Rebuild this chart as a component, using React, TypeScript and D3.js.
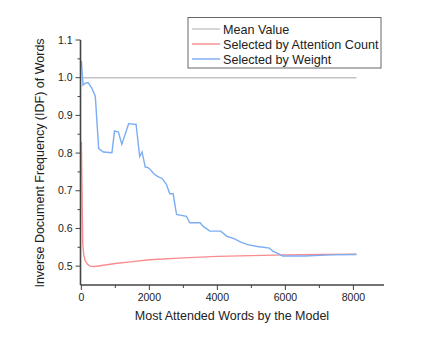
import * as d3 from 'd3'

// IDF of words picked by the model
const weightSeries: [number, number][] = [
  [0, 1.045], [50, 0.98], [110, 0.985], [200, 0.987], [310, 0.972], [410, 0.951],
  [510, 0.812], [650, 0.803], [900, 0.801], [975, 0.859], [1090, 0.856], [1190, 0.823],
  [1390, 0.878], [1610, 0.876], [1715, 0.791], [1785, 0.803], [1880, 0.763], [1950, 0.762],
  [2010, 0.758], [2130, 0.745], [2230, 0.739], [2380, 0.732], [2500, 0.717], [2600, 0.692],
  [2700, 0.692], [2800, 0.637], [3090, 0.632], [3190, 0.615], [3490, 0.615], [3600, 0.604],
  [3780, 0.593], [4100, 0.593], [4280, 0.579], [4490, 0.573], [4690, 0.564], [4890, 0.557],
  [5180, 0.552], [5530, 0.548], [5630, 0.54], [5790, 0.533], [5920, 0.527], [6560, 0.527],
  [7350, 0.53], [8090, 0.531],
]

const countSeries: [number, number][] = [
  [0, 0.83], [20, 0.7], [40, 0.56], [70, 0.53], [110, 0.515], [180, 0.505], [260, 0.5],
  [400, 0.499], [700, 0.503], [1000, 0.507], [1500, 0.512], [2000, 0.517], [3000, 0.522],
  [4000, 0.526], [5000, 0.528], [6000, 0.53], [7000, 0.531], [8090, 0.532],
]

const meanSeries: [number, number][] = [[0, 1.0], [8090, 1.0]]

const xMajor = [0, 2000, 4000, 6000, 8000]
const xMinor = [1000, 3000, 5000, 7000]
const yMajor = [0.5, 0.6, 0.7, 0.8, 0.9, 1.0, 1.1]
const yMinor = [0.55, 0.65, 0.75, 0.85, 0.95, 1.05]

const legendItems = [
  { label: 'Mean Value', color: '#c4c4c4' },
  { label: 'Selected by Attention Count', color: '#f98c8e' },
  { label: 'Selected by Weight', color: '#7badf2' },
]

const W = 447
const H = 342
const font = '"Liberation Sans", Arial, sans-serif'

export default function App() {
  const x = d3.scaleLinear().domain([-25, 8900]).range([80.5, 384])
  const y = d3.scaleLinear().domain([0.45, 1.1]).range([285, 40])

  const line = d3.line<[number, number]>()
    .x(d => x(d[0]))
    .y(d => y(d[1]))

  const series = [
    { data: meanSeries, color: legendItems[0].color },
    { data: countSeries, color: legendItems[1].color },
    { data: weightSeries, color: legendItems[2].color },
  ]

  const x0 = x.range()[0]
  const y0 = y.range()[0]

  return (
    <svg width={W} height={H} style={{ position: 'absolute', left: 0, top: 0, background: '#fff' }}>
      {/* lines */}
      {series.map((s, i) => (
        <path key={i} d={line(s.data) ?? ''} fill="none" stroke={s.color} strokeWidth={1.4} />
      ))}

      {/* y axis */}
      <line x1={x0} x2={x0} y1={y0} y2={y(1.1)} stroke="#444" strokeWidth={1.6} />
      {yMajor.map(v => (
        <g key={v}>
          <line x1={x0 - 5} x2={x0} y1={y(v)} y2={y(v)} stroke="#444" strokeWidth={1} />
          <text x={x0 - 8} y={y(v)} dy="0.35em" textAnchor="end" fontSize={10.5} fontFamily={font} fill="#222">
            {v.toFixed(1)}
          </text>
        </g>
      ))}
      {yMinor.map(v => (
        <line key={v} x1={x0 - 3} x2={x0} y1={y(v)} y2={y(v)} stroke="#444" strokeWidth={1} />
      ))}

      {/* x axis */}
      <line x1={x0} x2={x.range()[1]} y1={y0} y2={y0} stroke="#444" strokeWidth={1.6} />
      {xMajor.map(v => (
        <g key={v}>
          <line x1={x(v)} x2={x(v)} y1={y0} y2={y0 + 5} stroke="#444" strokeWidth={1} />
          <text x={x(v)} y={y0 + 16} textAnchor="middle" fontSize={10.5} fontFamily={font} fill="#222">
            {v}
          </text>
        </g>
      ))}
      {xMinor.map(v => (
        <line key={v} x1={x(v)} x2={x(v)} y1={y0} y2={y0 + 3} stroke="#444" strokeWidth={1} />
      ))}

      {/* axis titles */}
      <text x={232} y={320} textAnchor="middle" fontSize={12.5} fontFamily={font} fill="#222">
        Most Attended Words by the Model
      </text>
      <text
        transform="translate(44,163) rotate(-90)"
        textAnchor="middle"
        fontSize={12.5}
        fontFamily={font}
        fill="#222"
      >
        Inverse Document Frequency (IDF) of Words
      </text>

      {/* legend */}
      <rect x={188} y={17.5} width={193} height={50.5} fill="#fff" stroke="#666" strokeWidth={1} />
      {legendItems.map((it, i) => (
        <g key={it.label} transform={`translate(192,${29 + i * 15})`}>
          <line x1={0} x2={28} y1={0} y2={0} stroke={it.color} strokeWidth={1.4} />
          <text x={31} y={0} dy="0.36em" fontSize={12.6} fontFamily={font} fill="#222">
            {it.label}
          </text>
        </g>
      ))}
    </svg>
  )
}
